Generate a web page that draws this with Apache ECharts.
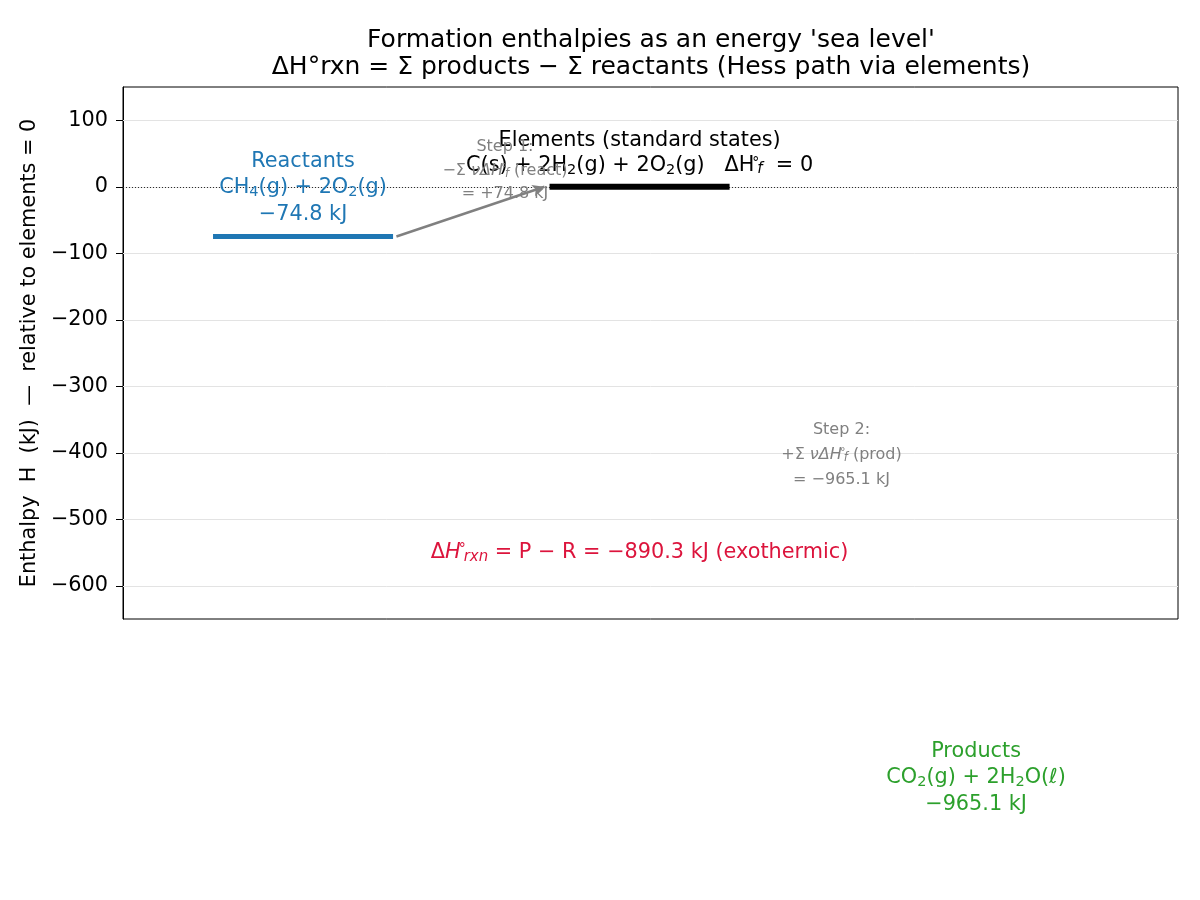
<!DOCTYPE html>
<html><head><meta charset="utf-8">
<script src="https://cdn.jsdelivr.net/npm/echarts@6/dist/echarts.min.js"></script>
<style>html,body{margin:0;padding:0;background:#fff}#c{width:1200px;height:900px}</style>
</head><body><div id="c"></div>
<script>
// ---- data ----
const levelNames = ['Reactants', 'Elements (standard states)', 'Products'];
const levelSpecies = ['CH₄(g) + 2O₂(g)', 'C(s) + 2H₂(g) + 2O₂(g)', 'CO₂(g) + 2H₂O(ℓ)'];
const levelX = [0, 1, 2];
const levelH = [-74.8, 0, -965.1];
const yTicks = [-600, -500, -400, -300, -200, -100, 0, 100];
const step1Value = 74.8;
const step2Value = -965.1;
const dHrxn = -890.3;
const step1Pos = [0.6, 24];
const step2Pos = [1.6, -403];
const rxnPos = [1.0, -550];

// ---- styling ----
const FONT = 'DejaVu Sans';
const colors = ['#1f77b4', '#000000', '#2ca02c'];
const lineW = [5, 6, 5];
const W = 0.2675;
const FS = 20.8;
const fmt = v => (v < 0 ? '−' : '+') + Math.abs(v).toFixed(1) + ' kJ';
const fmtPlain = v => (v < 0 ? '−' : '') + Math.abs(v).toFixed(1) + ' kJ';
const SUBS = '₀₁₂₃₄₅₆₇₈₉';

// turn unicode subscript digits into rich-text subscript tokens
function richify(str) {
  let out = '', buf = '', mode = 't';
  const flush = () => { if (buf) out += '{' + mode + '|' + buf + '}'; buf = ''; };
  for (const ch of str) {
    const k = SUBS.indexOf(ch);
    const m = k >= 0 ? 'sd' : 't';
    if (m !== mode) { flush(); mode = m; }
    buf += k >= 0 ? String(k) : ch;
  }
  flush();
  return out;
}

const levelSeries = levelX.map((x, i) => ({
  type: 'line', silent: true, symbol: 'none', clip: true, z: 5,
  data: [[x - W, levelH[i]], [x + W, levelH[i]]],
  lineStyle: { color: colors[i], width: lineW[i] }
}));

function labelText(i) {
  if (i === 1) {
    return '{t|' + levelNames[i] + '}\n' + richify(levelSpecies[i]) + '{t|   ΔH}{sup|°}{sub|f}{t|  = 0}';
  }
  return '{t|' + levelNames[i] + '}\n' + richify(levelSpecies[i]) + '\n{t|' + fmtPlain(levelH[i]) + '}';
}

const labelData = levelX.map((x, i) => {
  const lh = i === 1 ? 25 : 26.5;
  return {
    value: [x, levelH[i]],
    label: {
      show: true, position: 'top', distance: i === 2 ? 11 : 9, align: 'center',
      formatter: labelText(i),
      rich: {
        t: { fontFamily: FONT, fontSize: FS, lineHeight: lh, color: colors[i] },
        sd: { fontFamily: FONT, fontSize: 14.5, lineHeight: 14.5, color: colors[i], padding: [9, 0, 0, 0] },
        sup: { fontFamily: FONT, fontSize: 14, lineHeight: 14, color: colors[i], padding: [0, 0, 4, 0], width: 3, align: 'left' },
        sub: { fontFamily: FONT, fontSize: 15, lineHeight: 15, fontStyle: 'italic', color: colors[i], padding: [8, 0, 0, 0] }
      }
    }
  };
});

const gray = '#808080';
const GF = 16;
function grayRich(lh) {
  return {
    g: { fontFamily: FONT, fontSize: GF, lineHeight: lh, color: gray },
    gi: { fontFamily: FONT, fontSize: GF, lineHeight: lh, color: gray, fontStyle: 'italic' },
    gsup: { fontFamily: FONT, fontSize: 11, lineHeight: 11, color: gray, padding: [0, 0, 6, 0], width: 2, align: 'left' },
    gsub: { fontFamily: FONT, fontSize: 11.5, lineHeight: 11.5, color: gray, fontStyle: 'italic', padding: [7, 0, 0, 0] }
  };
}
const annData = [
  {
    value: step1Pos,
    label: {
      show: true, position: 'inside', align: 'center', verticalAlign: 'middle',
      formatter: '{g|Step 1:}\n{g|−Σ }{gi|νΔH}{gsup|°}{gsub|f}{g| (react)}\n{g|= ' + fmt(step1Value) + '}',
      rich: grayRich(23.5)
    }
  },
  {
    value: step2Pos,
    label: {
      show: true, position: 'inside', align: 'center', verticalAlign: 'middle',
      formatter: '{g|Step 2:}\n{g|+Σ }{gi|νΔH}{gsup|°}{gsub|f}{g| (prod)}\n{g|= ' + fmtPlain(step2Value) + '}',
      rich: grayRich(25)
    }
  },
  {
    value: rxnPos,
    label: {
      show: true, position: 'inside', align: 'center', verticalAlign: 'middle',
      formatter: '{r|Δ}{ri|H}{rsup|°}{rsub|rxn}{r| = P − R = ' + fmtPlain(dHrxn) + ' (exothermic)}',
      rich: {
        r: { fontFamily: FONT, fontSize: FS, lineHeight: 26, color: '#dc143c' },
        ri: { fontFamily: FONT, fontSize: FS, lineHeight: 26, color: '#dc143c', fontStyle: 'italic' },
        rsup: { fontFamily: FONT, fontSize: 14, lineHeight: 14, color: '#dc143c', padding: [0, 0, 6, 0], width: 3, align: 'left' },
        rsub: { fontFamily: FONT, fontSize: 15, lineHeight: 15, color: '#dc143c', fontStyle: 'italic', padding: [10, 0, 0, 0] }
      }
    }
  }
];

const chart = echarts.init(document.getElementById('c'), null, { renderer: 'canvas' });
chart.setOption({
  backgroundColor: '#ffffff',
  animation: false,
  title: {
    text: "Formation enthalpies as an energy 'sea level'\nΔH°rxn = Σ products − Σ reactants (Hess path via elements)",
    left: 646, top: 22, textAlign: 'center',
    textStyle: { fontFamily: FONT, fontSize: 25, fontWeight: 'normal', color: '#000', lineHeight: 27 }
  },
  grid: {
    left: 123, right: 22, top: 87, bottom: 281,
    show: true, borderColor: '#000', borderWidth: 1, backgroundColor: 'transparent',
    containLabel: false, outerBoundsMode: 'none'
  },
  xAxis: { type: 'value', min: -0.535, max: 2.6, show: false },
  yAxis: {
    type: 'value', min: -650, max: 150,
    name: 'Enthalpy  H  (kJ)  —  relative to elements = 0',
    nameLocation: 'middle', nameGap: 77,
    nameTextStyle: { fontFamily: FONT, fontSize: FS, color: '#000' },
    axisLine: { show: true, onZero: false, lineStyle: { color: '#000', width: 1 } },
    axisTick: { show: true, length: 7, customValues: yTicks, lineStyle: { color: '#000', width: 1 } },
    axisLabel: { customValues: yTicks, fontFamily: FONT, fontSize: FS, color: '#000', margin: 15,
      formatter: v => (v < 0 ? '−' + Math.abs(v) : String(v)) },
    splitLine: { show: false }
  },
  series: [
    {
      type: 'line', silent: true, data: [], z: 1,
      markLine: {
        silent: true, symbol: 'none', label: { show: false },
        data: yTicks.map(v => ({ yAxis: v, lineStyle: { color: '#e3e3e3', width: 1, type: 'solid' } }))
          .concat([{ yAxis: 0, lineStyle: { color: '#000', width: 0.8, type: [1, 2] } }])
      }
    },
    ...levelSeries,
    {
      type: 'line', silent: true, data: [], z: 4,
      markLine: {
        silent: true, symbol: ['none', 'arrow'], symbolSize: [9, 12], label: { show: false },
        lineStyle: { color: gray, width: 2.4, type: 'solid' },
        data: [[{ coord: [levelX[0] + W + 0.01, levelH[0]] }, { coord: [levelX[1] - W - 0.015, levelH[1]] }]]
      }
    },
    { type: 'scatter', silent: true, symbolSize: 0, clip: false, z: 6, itemStyle: { opacity: 1 }, data: labelData },
    { type: 'scatter', silent: true, symbolSize: 0, clip: false, z: 6, itemStyle: { opacity: 1 }, data: annData }
  ]
});
</script></body></html>
